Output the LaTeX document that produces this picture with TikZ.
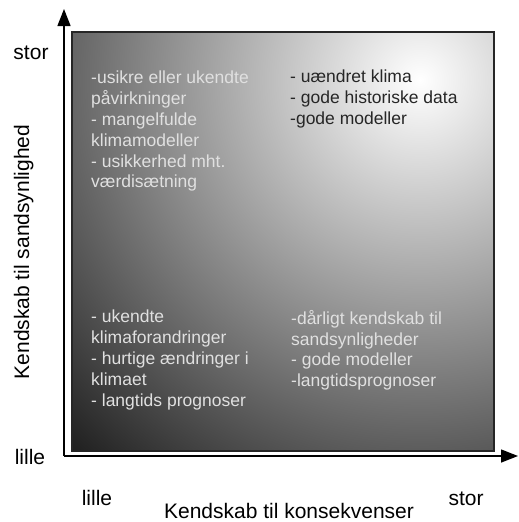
\documentclass[tikz,border=0pt]{standalone}
\usepackage{fontspec}
\setmainfont{Liberation Sans}
\usetikzlibrary{arrows.meta}
\tikzstyle{quadrant} = [anchor=north west,
inner sep=0pt,
align=left,
font=\fontsize{17.5}{20.8}\selectfont]
\tikzstyle{darktext} = [quadrant, text=black!85]
\tikzstyle{lighttext} = [quadrant, text=black!12]
\tikzstyle{axislabel} = [inner sep=0pt, anchor=base,
font=\fontsize{21}{25}\selectfont]
\tikzstyle{axis} = [line width=1.4pt, -{Triangle[length=17pt,width=13pt]}]

\begin{document}
\begin{tikzpicture}[x=1pt, y=-1pt]
\useasboundingbox (0,0) rectangle (519,522);
% shaded field
\begin{scope}
\clip (72,32) rectangle (494,451);
\shade[inner color=white, outer color=black] (420,80) circle (580pt);
\end{scope}
\draw[line width=1.3pt, black!85] (72,32) rectangle (494,451);

% axes
\coordinate (origin) at (64,456);
\coordinate (ytip) at (64,9);
\coordinate (xtip) at (518,456);
\draw[axis] (origin) -- (ytip);
\draw[axis] (origin) -- (xtip);

% quadrant texts
\node (uncertain) [lighttext] at (91,71) {-usikre eller ukendte\\påvirkninger\\- mangelfulde\\klimamodeller\\- usikkerhed mht.\\værdisætning};
\node (unchanged) [darktext] at (290,70) {- uændret klima\\- gode historiske data\\-gode modeller};
\node (unknown) [lighttext] at (91,310) {- ukendte\\klimaforandringer\\- hurtige ændringer i\\klimaet\\- langtids prognoser};
\node (poorknow) [lighttext] at (291,310) {-dårligt kendskab til\\sandsynligheder\\- gode modeller\\-langtidsprognoser};

% axis labels
\node (ybig) [axislabel] at (31,59) {stor};
\node (ysmall) [axislabel] at (30,464) {lille};
\node (xsmall) [axislabel] at (97,505) {lille};
\node (xbig) [axislabel] at (466,505) {stor};
\node (xtitle) [axislabel] at (289,518) {Kendskab til konsekvenser};
\node (ytitle) [axislabel, rotate=90] at (29,252) {Kendskab til sandsynlighed};
\end{tikzpicture}
\end{document}
